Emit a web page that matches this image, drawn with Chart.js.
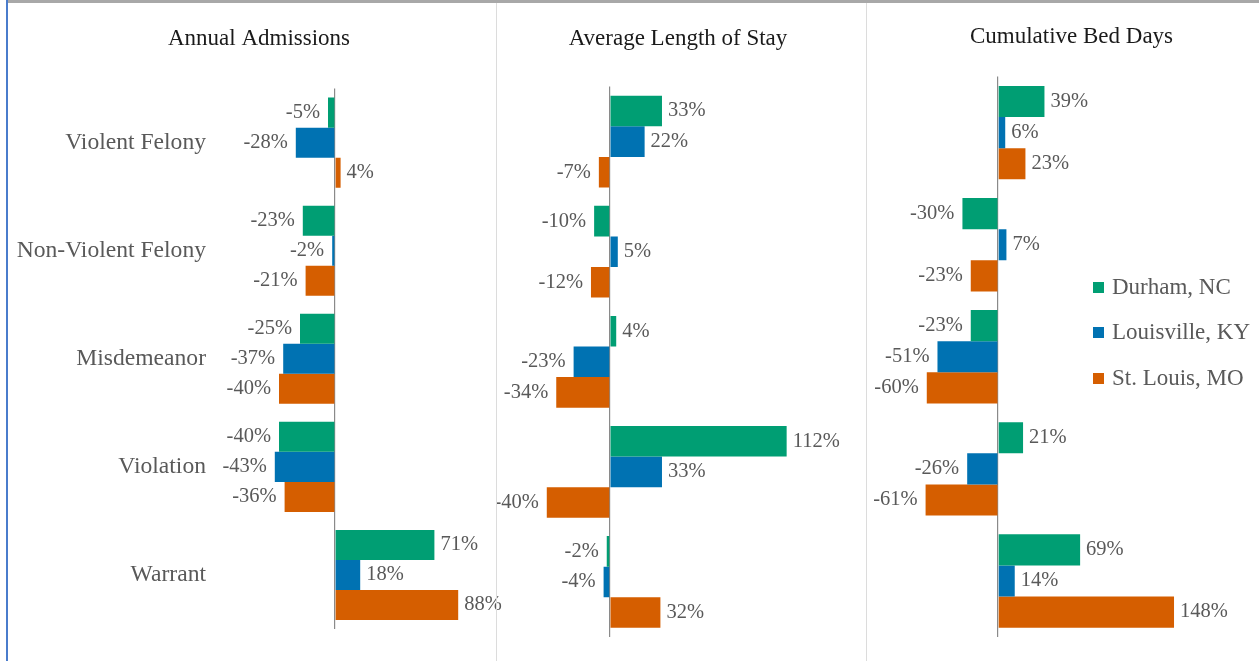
<!DOCTYPE html>
<html>
<head>
<meta charset="utf-8">
<title>Percent change by offense type</title>
<script src="https://cdn.jsdelivr.net/npm/chart.js@4.4.1/dist/chart.umd.min.js"></script>
<style>
  body { margin: 0; background: #fff; }
  #page { position: relative; width: 1259px; height: 661px; overflow: hidden; background: #fff; }
  .panel { position: absolute; top: 0; height: 661px; }
  .rule { position: absolute; }
  #legend { position: absolute; left: 1093px; top: 0; font-family: "Liberation Serif", "Times New Roman", serif; font-size: 23px; color: #595959; }
  .legend-row { position: absolute; left: 0; height: 30px; display: flex; align-items: center; white-space: nowrap; }
  .legend-box { width: 11px; height: 11px; margin-right: 8px; }
</style>
</head>
<body>
<div id="page">
  <div class="panel" style="left:8px;width:502px"><canvas id="admissions" width="502" height="661"></canvas></div>
  <div class="panel" style="left:497px;width:369px"><canvas id="stay" width="369" height="661"></canvas></div>
  <div class="panel" style="left:866px;width:393px"><canvas id="beddays" width="393" height="661"></canvas></div>

  <div class="rule" style="left:8px;top:0;width:1251px;height:3px;background:#a8a8a8"></div>
  <div class="rule" style="left:6px;top:0;width:2px;height:661px;background:#4a7ccc"></div>
  <div class="rule" style="left:496px;top:3px;width:1px;height:658px;background:#dcdcdc"></div>
  <div class="rule" style="left:866px;top:3px;width:1px;height:658px;background:#dcdcdc"></div>

  <div id="legend"></div>
</div>

<script>
const categories = ['Violent Felony', 'Non-Violent Felony', 'Misdemeanor', 'Violation', 'Warrant'];
const cities = ['Durham, NC', 'Louisville, KY', 'St. Louis, MO'];
const cityColors = ['#009E73', '#0072B2', '#D55E00'];

// Annual Admissions, % change
const admissionsDurham = [-5, -23, -25, -40, 71];
const admissionsLouisville = [-28, -2, -37, -43, 18];
const admissionsStLouis = [4, -21, -40, -36, 88];

// Average Length of Stay, % change
const stayDurham = [33, -10, 4, 112, -2];
const stayLouisville = [22, 5, -23, 33, -4];
const stayStLouis = [-7, -12, -34, -40, 32];

// Cumulative Bed Days, % change
const bedDaysDurham = [39, -30, -23, 21, 69];
const bedDaysLouisville = [6, 7, -51, -26, 14];
const bedDaysStLouis = [23, -23, -60, -61, 148];

const serif = '"Liberation Serif", "Times New Roman", serif';

// value labels at the end of each bar
const valueLabels = {
  id: 'valueLabels',
  afterDatasetsDraw(chart) {
    const ctx = chart.ctx;
    ctx.save();
    ctx.font = '20.5px ' + serif;
    ctx.fillStyle = '#595959';
    ctx.textBaseline = 'middle';
    chart.data.datasets.forEach((ds, i) => {
      chart.getDatasetMeta(i).data.forEach((bar, j) => {
        const v = ds.data[j];
        if (v >= 0) {
          ctx.textAlign = 'left';
          ctx.fillText(v + '%', bar.x + 6, bar.y);
        } else {
          ctx.textAlign = 'right';
          ctx.fillText(v + '%', bar.x - 8, bar.y);
        }
      });
    });
    ctx.restore();
  }
};

function makePanel(id, titleText, series, cfg) {
  const datasets = series.map((values, i) => ({
    label: cities[i],
    data: values,
    backgroundColor: cityColors[i],
    borderWidth: 0,
    categoryPercentage: 0.833,
    barPercentage: 1
  }));

  const yAxis = cfg.showCategories ? {
    grid: { display: false, drawTicks: false },
    border: { display: false },
    ticks: {
      color: '#595959',
      font: { family: serif, size: 23.6 },
      padding: 45
    },
    afterFit(scale) {
      scale.width = cfg.labelWidth;
      scale.paddingTop = 0;
      scale.paddingBottom = 0;
    }
  } : { display: false };

  return new Chart(document.getElementById(id), {
    type: 'bar',
    data: { labels: categories, datasets: datasets },
    options: {
      indexAxis: 'y',
      responsive: false,
      animation: false,
      layout: { padding: cfg.padding, autoPadding: false },
      plugins: {
        legend: { display: false },
        tooltip: { enabled: false },
        title: {
          display: true,
          text: titleText,
          color: '#1a1a1a',
          font: { family: serif, size: 23, weight: 'normal' },
          padding: cfg.titlePadding
        }
      },
      scales: {
        x: {
          min: cfg.min,
          max: cfg.max,
          ticks: { display: false, stepSize: 10 },
          border: { display: false },
          grid: {
            drawTicks: false,
            lineWidth: 1.2,
            color: c => (c.tick && c.tick.value === 0) ? '#8a8a8a' : 'rgba(0,0,0,0)'
          }
        },
        y: yAxis
      }
    },
    plugins: [valueLabels]
  });
}

makePanel('admissions', 'Annual Admissions',
  [admissionsDurham, admissionsLouisville, admissionsStLouis],
  { min: -60, max: 125, showCategories: true, labelWidth: 243,
    padding: { left: 0, right: 0, top: 0, bottom: 32 },
    titlePadding: { top: 25, bottom: 36 } });

makePanel('stay', 'Average Length of Stay',
  [stayDurham, stayLouisville, stayStLouis],
  { min: -50, max: 136.3, showCategories: false,
    padding: { left: 34, right: 41, top: 0, bottom: 24 },
    titlePadding: { top: 25, bottom: 34 } });

makePanel('beddays', 'Cumulative Bed Days',
  [bedDaysDurham, bedDaysLouisville, bedDaysStLouis],
  { min: -80, max: 203.5, showCategories: false,
    padding: { left: 37, right: 19, top: 0, bottom: 24 },
    titlePadding: { top: 23, bottom: 26 } });

// legend
const legend = document.getElementById('legend');
const rowCenters = [287, 332, 378];
cities.forEach((name, i) => {
  const row = document.createElement('div');
  row.className = 'legend-row';
  row.style.top = (rowCenters[i] - 15) + 'px';
  const box = document.createElement('span');
  box.className = 'legend-box';
  box.style.background = cityColors[i];
  const txt = document.createElement('span');
  txt.textContent = name;
  row.appendChild(box);
  row.appendChild(txt);
  legend.appendChild(row);
});
</script>
</body>
</html>
